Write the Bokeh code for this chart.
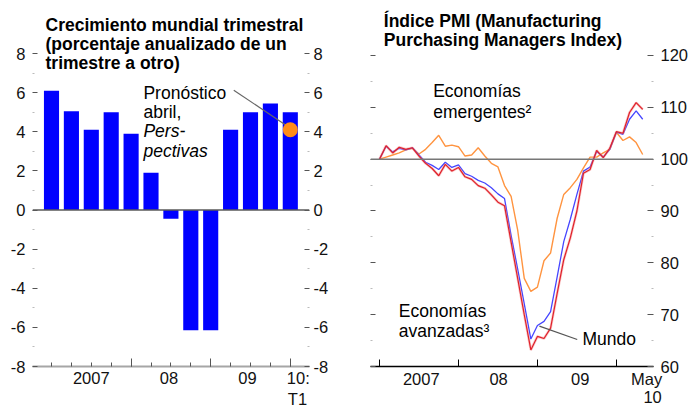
import numpy as np
import pandas as pd
from bokeh.plotting import figure
from bokeh.models import LinearAxis, FixedTicker, Range1d, Span
from bokeh.layouts import row
from bokeh.embed import file_html
from bokeh.resources import INLINE
from bokeh.core.properties import value

FONT = "Liberation Sans"

# ---------------- left panel data ----------------
quarters = ["2007T1", "2007T2", "2007T3", "2007T4", "2008T1", "2008T2", "2008T3",
            "2008T4", "2009T1", "2009T2", "2009T3", "2009T4", "2010T1"]
growth = [6.1, 5.05, 4.1, 5.0, 3.9, 1.9, -0.45, -6.15, -6.15, 4.1, 5.0, 5.45, 5.0]
forecast_quarter = "2010T1"
forecast_value = 4.1
growth_ticks = [-8, -6, -4, -2, 0, 2, 4, 6, 8]
growth_minor = [-7, -5, -3, -1, 1, 3, 5, 7]
left_year_labels = ["2007", "08", "09", "10:"]
left_year_label_pos = [2.0, 5.9, 9.85, 12.4]
left_second_line = {12.36: "T1"}

# ---------------- right panel data ----------------
months = pd.period_range("2007-01", "2010-05", freq="M")
mundo = [100, 102.5, 101.4, 102.1, 101.8, 102.2, 100.8, 99.4, 98.8, 98.0,
         99.4, 98.4, 98.9, 97.2, 96.7, 95.9, 95.4, 94.5, 93.3, 92.4,
         85.3, 78.8, 72.1, 65.3, 67.9, 68.7, 70.6, 77.3, 84.1, 88.4,
         93.2, 97.7, 98.5, 101.5, 100.4, 101.9, 105.2, 104.8, 107.7, 109.3, 107.7]
avanzadas = [100, 102.6, 101.2, 102.3, 101.9, 102.2, 100.6, 99.2, 98.2, 96.8,
             99.0, 97.7, 98.4, 96.6, 96.1, 94.9, 94.4, 93.1, 91.7, 91.0,
             84.0, 77.0, 70.0, 63.2, 65.8, 65.4, 67.4, 74.1, 80.6, 84.8,
             90.0, 97.3, 98.0, 101.7, 100.3, 102.1, 105.3, 105.0, 109.0, 110.9, 109.6]
emergentes = [100, 100.4, 100.8, 101.2, 101.8, 102.1, 101.0, 101.9, 103.2, 104.6,
              102.5, 102.7, 102.4, 100.6, 100.8, 102.2, 100.6, 99.2, 98.5, 94.9,
              92.8, 86.3, 77.0, 74.5, 75.3, 80.4, 81.9, 88.6, 93.2, 94.5,
              96.1, 98.3, 100.4, 100.4, 101.2, 101.9, 105.2, 103.6, 104.3, 103.2, 100.9]
pmi_ticks = [60, 70, 80, 90, 100, 110, 120]
pmi_minor = [65, 75, 85, 95, 105, 115]
right_year_labels = ["2007", "08", "09", "May"]
right_year_label_pos = [6.35, 18.1, 30.5, 40.6]
right_second_line = {41.5: "10"}

TICK_FONT = "16.5px"
TEXT_FONT = "17.5px"


def style_axis(ax, standoff, show_labels=True):
    ax.axis_line_color = None
    ax.major_tick_in = 5
    ax.major_tick_out = 0
    ax.minor_tick_in = 2
    ax.minor_tick_out = 0
    ax.major_tick_line_color = "#555555"
    ax.minor_tick_line_color = "#bbbbbb"
    ax.major_label_standoff = standoff
    ax.major_label_text_font = FONT
    ax.major_label_text_font_size = TICK_FONT
    ax.major_label_text_color = "#111111" if show_labels else None


def label_axis(labels_by_pos, standoff):
    pos = list(labels_by_pos.keys())
    ax = LinearAxis(ticker=FixedTicker(ticks=pos), major_label_overrides=dict(labels_by_pos))
    ax.axis_line_color = None
    ax.major_tick_in = 0
    ax.major_tick_out = 0
    ax.major_label_standoff = standoff
    ax.major_label_text_font = FONT
    ax.major_label_text_font_size = TICK_FONT
    ax.major_label_text_color = "#111111"
    return ax


def add_text(p, x, y, lines, style="normal"):
    p.text(x=[x] * len(lines), y=y, text=lines, text_font=value(FONT),
           text_font_size=TEXT_FONT, text_font_style=style,
           text_baseline="alphabetic", text_align="left", text_color="#000000")


# ================= LEFT PANEL =================
qx = np.arange(len(quarters))
p1 = figure(width=340, height=410, x_range=Range1d(-0.955, 12.965),
            y_range=Range1d(-8.0, 10.2), x_axis_type=None, y_axis_type=None,
            output_backend="svg", toolbar_location=None,
            min_border_left=32, min_border_right=31, min_border_top=10, min_border_bottom=44)
p1.outline_line_color = None

for side, so in (("left", 7), ("right", 4)):
    ax = LinearAxis(ticker=FixedTicker(ticks=growth_ticks, minor_ticks=growth_minor),
                    major_label_overrides={t: str(t) for t in growth_ticks})
    style_axis(ax, so)
    p1.add_layout(ax, side)

# tick axis (no labels): long ticks at year starts, short ticks at each quarter
year_starts = [i for i, q in enumerate(quarters) if q.endswith("T1") and i > 0]
xa = LinearAxis(ticker=FixedTicker(ticks=year_starts, minor_ticks=list(qx)))
xa.axis_line_color = "#a6a6a6"
xa.axis_line_width = 2
xa.major_tick_in = 8
xa.major_tick_out = 0
xa.minor_tick_in = 4
xa.minor_tick_out = 0
xa.major_tick_line_color = "#555555"
xa.minor_tick_line_color = "#555555"
xa.major_label_text_font_size = "1px"
xa.major_label_text_color = None
xa.major_label_standoff = 0
p1.add_layout(xa, "below")
p1.add_layout(label_axis(dict(zip(left_year_label_pos, left_year_labels)), 2), "below")
p1.add_layout(label_axis(left_second_line, 0), "below")

p1.add_layout(Span(location=0, dimension="width", line_color="#5a5a5a", line_width=1.5))
p1.vbar(x=qx, top=growth, width=0.76, fill_color="#0000ff", line_color=None)

fq = quarters.index(forecast_quarter)
p1.line(x=[9.16, fq - 0.16], y=[6.12, forecast_value + 0.2], line_color="#666666", line_width=1.2)
p1.scatter(x=[fq], y=[forecast_value], size=15, fill_color="#ff8c1a", line_color=None)

add_text(p1, -0.30, [9.47, 8.50, 7.53],
         ["Crecimiento mundial trimestral", "(porcentaje anualizado de un", "trimestre a otro)"],
         style="bold")
add_text(p1, 4.62, [5.99, 5.03], ["Pronóstico", "abril,"])
add_text(p1, 4.62, [4.04, 3.04], ["Pers-", "pectivas"], style="italic")

# ================= RIGHT PANEL =================
mx = np.arange(len(months))
p2 = figure(width=354, height=410, x_range=Range1d(-1.368, 41.64),
            y_range=Range1d(60.0, 128.68), x_axis_type=None, y_axis_type=None,
            output_backend="svg", toolbar_location=None,
            min_border_left=30, min_border_right=41, min_border_top=10, min_border_bottom=44)
p2.outline_line_color = None

axl = LinearAxis(ticker=FixedTicker(ticks=pmi_ticks, minor_ticks=pmi_minor))
style_axis(axl, 0, show_labels=False)
p2.add_layout(axl, "left")
axr = LinearAxis(ticker=FixedTicker(ticks=pmi_ticks, minor_ticks=pmi_minor),
                 major_label_overrides={t: str(t) for t in pmi_ticks})
style_axis(axr, 7)
axr.major_tick_in = 6
p2.add_layout(axr, "right")

jan_idx = [i for i, m in enumerate(months) if m.month == 1]
xc = LinearAxis(ticker=FixedTicker(ticks=right_year_label_pos, minor_ticks=jan_idx),
                major_label_overrides=dict(zip(right_year_label_pos, right_year_labels)))
xc.axis_line_color = "#000000"
xc.axis_line_width = 1.3
xc.major_tick_in = 0
xc.major_tick_out = 0
xc.minor_tick_in = 7
xc.minor_tick_out = 0
xc.minor_tick_line_color = "#000000"
xc.major_label_standoff = 3
xc.major_label_text_font = FONT
xc.major_label_text_font_size = TICK_FONT
xc.major_label_text_color = "#111111"
p2.add_layout(xc, "below")
p2.add_layout(label_axis(right_second_line, 0), "below")

p2.add_layout(Span(location=100, dimension="width", line_color="#777777", line_width=1.5))

p2.line(x=mx, y=emergentes, line_color="#ff9440", line_width=1.4)
p2.line(x=mx, y=mundo, line_color="#4646ff", line_width=1.3)
p2.line(x=mx, y=avanzadas, line_color="#f08080", line_width=2.6, line_alpha=0.45)
p2.line(x=mx, y=avanzadas, line_color="#e0202a", line_width=1.2)

p2.line(x=[24.3, 30.05], y=[67.8, 65.2], line_color="#555555", line_width=1.2)

add_text(p2, 0.65, [126.6, 122.9], ["Índice PMI (Manufacturing", "Purchasing Managers Index)"],
         style="bold")
add_text(p2, 8.16, [113.06, 109.16], ["Economías", "emergentes²"])
add_text(p2, 2.93, [70.76, 66.86], ["Economías", "avanzadas³"])
add_text(p2, 30.85, [65.36], ["Mundo"])

layout = row(p1, p2)
open("out.html", "w").write(file_html(layout, INLINE))
